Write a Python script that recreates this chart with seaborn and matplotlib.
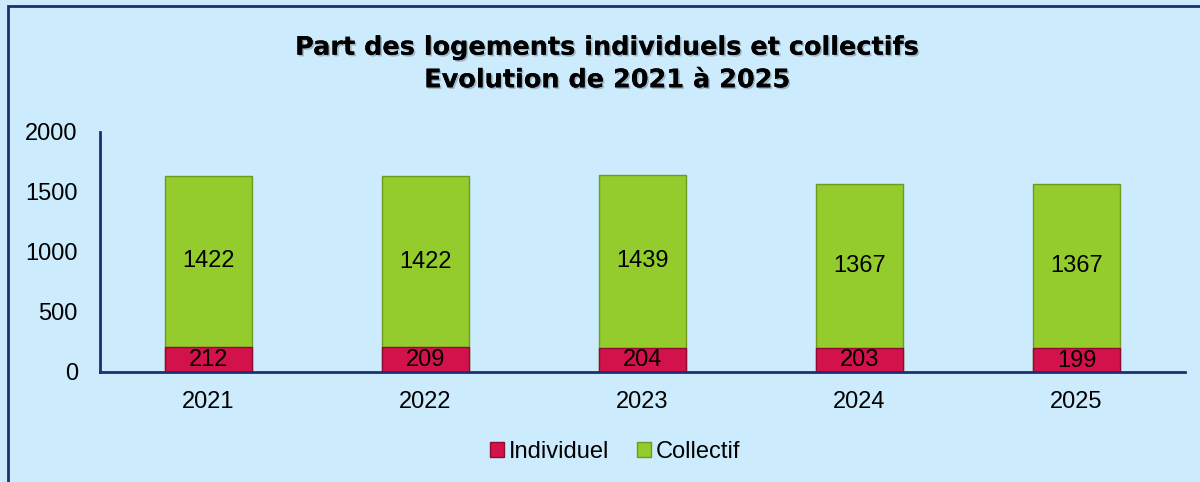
import matplotlib
matplotlib.use("Agg")
import matplotlib.pyplot as plt
import matplotlib.patheffects as pe
from matplotlib.patches import Rectangle, Patch
import seaborn as sns
import pandas as pd

years = ["2021", "2022", "2023", "2024", "2025"]
individuel = [212, 209, 204, 203, 199]
collectif = [1422, 1422, 1439, 1367, 1367]
yticks = [0, 500, 1000, 1500, 2000]
title = "Part des logements individuels et collectifs\nEvolution de 2021 à 2025"

bg = "#CCEBFD"
green = "#93CC2C"
green_edge = "#6E9A1E"
red = "#D3114B"
red_edge = "#8E0B32"
navy = "#1B2F72"

sns.set_theme(style="white")
plt.rcParams["font.family"] = ["Liberation Sans", "DejaVu Sans"]
plt.rcParams["text.color"] = "black"
plt.rcParams["xtick.color"] = "black"
plt.rcParams["ytick.color"] = "black"

df = pd.DataFrame({"year": years, "individuel": individuel, "collectif": collectif})
df["total"] = df["individuel"] + df["collectif"]

W, H = 1200, 482
fig = plt.figure(figsize=(W / 100, H / 100), dpi=100)
fig.patch.set_facecolor(bg)

ax = fig.add_axes([100 / W, (H - 372) / H, (1185 - 100) / W, (372 - 132) / H])
ax.set_facecolor(bg)

sns.barplot(data=df, x="year", y="total", color=green, width=0.4, ax=ax,
            saturation=1, edgecolor=green_edge, linewidth=1)
sns.barplot(data=df, x="year", y="individuel", color=red, width=0.4, ax=ax,
            saturation=1, edgecolor=red_edge, linewidth=1)

for i, row in df.iterrows():
    ax.text(i, row["individuel"] + row["collectif"] / 2, str(row["collectif"]),
            ha="center", va="center", fontsize=17, color="black")
    ax.text(i, row["individuel"] / 2 - 5, str(row["individuel"]),
            ha="center", va="center", fontsize=17, color="black")

ax.set_ylim(0, 2000)
ax.set_xlim(-0.5, 4.5)
ax.set_yticks(yticks)
ax.set_yticklabels([str(v) for v in yticks], fontsize=17)
ax.tick_params(axis="x", labelsize=17, pad=14, length=0, labelcolor="black")
ax.tick_params(axis="y", labelsize=17, pad=16, length=0, labelcolor="black")
ax.set_xlabel("")
ax.set_ylabel("")
for s in ["top", "right"]:
    ax.spines[s].set_visible(False)
for s in ["left", "bottom"]:
    ax.spines[s].set_color(navy)
    ax.spines[s].set_linewidth(2)

fig.text(607 / W, 1 - 64 / H, title, ha="center", va="center", color="black",
         fontsize=18.4, fontweight="bold", family=["DejaVu Sans"],
         linespacing=1.33,
         path_effects=[pe.withSimplePatchShadow(offset=(1.2, -1.2), alpha=0.22),
                       pe.Normal()])

handles = [Patch(facecolor=red, edgecolor=red_edge, label="Individuel"),
           Patch(facecolor=green, edgecolor=green_edge, label="Collectif")]
fig.legend(handles=handles, loc="center", bbox_to_anchor=(615 / W, 1 - 452 / H),
           ncol=2, frameon=False, fontsize=17, handlelength=0.6, handleheight=0.6,
           handletextpad=0.2, columnspacing=1.2, labelcolor="black")

fig.patches.append(Rectangle((8 / W, -0.1), 1.2, 1 - 6 / H + 0.1,
                             transform=fig.transFigure, fill=False,
                             edgecolor=navy, linewidth=2))

fig.savefig("out.png", dpi=100, facecolor=bg)
